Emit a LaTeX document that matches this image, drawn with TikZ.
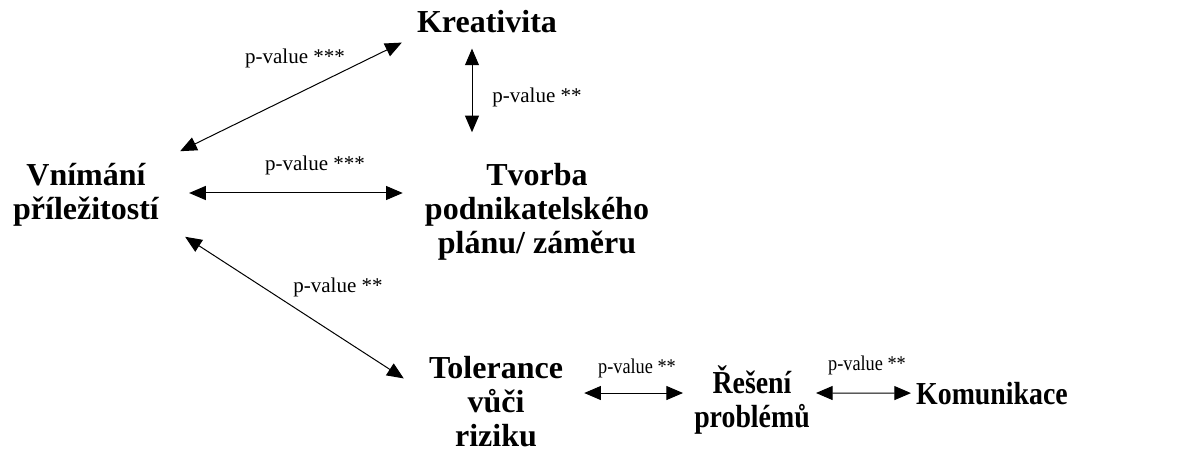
\documentclass[tikz,border=0pt]{standalone}
\usepackage{fontspec}
\setmainfont{Liberation Serif}
\usetikzlibrary{arrows.meta, positioning}

\begin{document}
\begin{tikzpicture}[
  x=0.75pt, y=-0.75pt,
  concept/.style={inner sep=0pt, align=center,
    font=\fontsize{24}{25.5}\selectfont\bfseries},
  pval/.style={inner sep=0pt, font=\fontsize{15.75}{18}\selectfont},
  squeeze/.style={xscale=0.87, transform shape},
  arr/.style={{Triangle[length=12.5pt, width=10.5pt]}-{Triangle[length=12.5pt, width=10.5pt]},
    line width=0.75pt}
]
  \useasboundingbox (0,0) rectangle (1182,456);

  % Concepts
  \node[concept, anchor=base] (krea) at (487,33) {Kreativita};
  \node[concept] (vnim) at (86,195) {Vnímání\\příležitostí};
  \node[concept] (tvor) at (537,212) {Tvorba\\podnikatelského\\plánu/ záměru};
  \node[concept] (tole) at (496,402) {Tolerance\\vůči\\riziku};
  \node[concept, squeeze] (rese) at (752,400) {Řešení\\problémů};
  \node[concept, squeeze, anchor=base] (komu) at (992,404) {Komunikace};

  % Links
  \draw[arr] ([shift={(21,-12)}]vnim.north east) -- ([shift={(-15,9)}]krea.south west);
  \draw[arr] ([shift={(-15,15)}]krea.south) -- ([shift={(-65,-31)}]tvor.north);
  \draw[arr] ([shift={(30,-2)}]vnim.east) -- ([shift={(-22,-19)}]tvor.west);
  \draw[arr] ([shift={(26,10)}]vnim.south east) -- ([shift={(-25,22)}]tole.north west);
  \draw[arr] ([shift={(21,-9)}]tole.east) -- ([shift={(-11,-7)}]rese.west);
  \draw[arr] ([shift={(6,-7)}]rese.east) -- ([shift={(-5,0)}]komu.west);

  % Significance
  \node[pval] (p1) at (295,58) {p-value ***};
  \node[pval] (p2) at (537,97) {p-value **};
  \node[pval] (p3) at (315,165) {p-value ***};
  \node[pval] (p4) at (338,287) {p-value **};
  \node[pval, squeeze] (p5) at (637,368) {p-value **};
  \node[pval, squeeze] (p6) at (867,365) {p-value **};
\end{tikzpicture}
\end{document}
